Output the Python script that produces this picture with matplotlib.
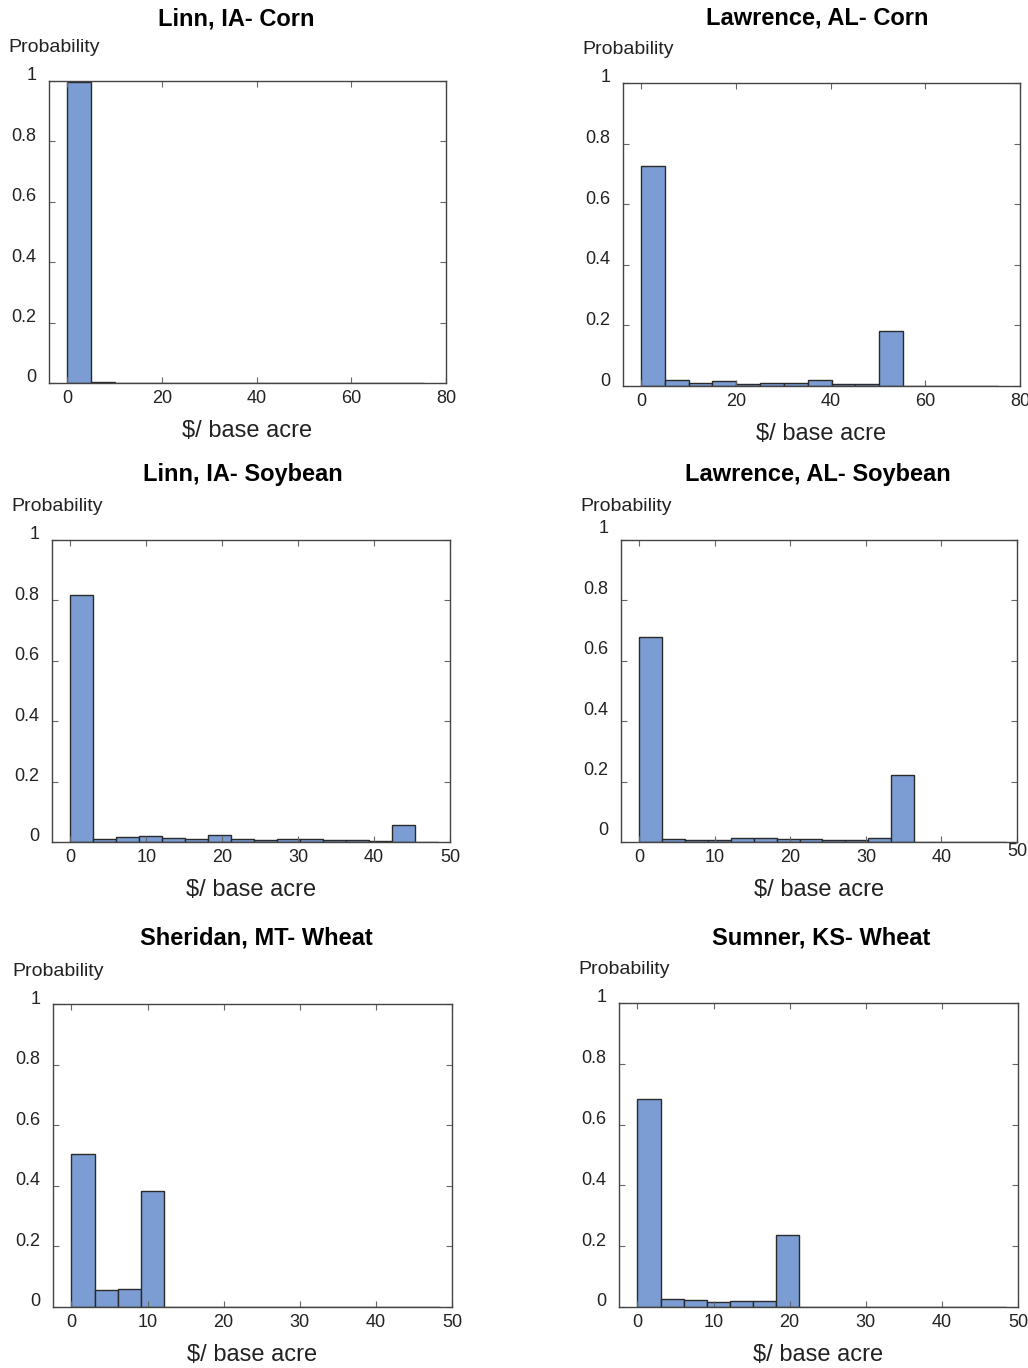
import numpy as np
import matplotlib
matplotlib.use('Agg')
from matplotlib import pyplot as plt
from matplotlib.ticker import FormatStrFormatter
from matplotlib.transforms import ScaledTranslation

plt.rcParams['font.family'] = ['Liberation Sans', 'DejaVu Sans']

# bin widths (MATLAB hist style)
corn_width = 5.03
other_width = 3.03

titles = ['Linn, IA- Corn', 'Lawrence, AL- Corn',
          'Linn, IA- Soybean', 'Lawrence, AL- Soybean',
          'Sheridan, MT- Wheat', 'Sumner, KS- Wheat']

linn_corn = [0.997, 0.002, 0.001, 0.001, 0.0005, 0.0005, 0.0005, 0.0005,
             0.0005, 0.0005, 0.0005, 0.0005, 0.0005, 0.0005, 0.0005]
lawrence_corn = [0.727, 0.019, 0.011, 0.018, 0.008, 0.009, 0.010, 0.021,
                 0.007, 0.007, 0.182, 0.001, 0.0005, 0.0005, 0.0005]
linn_soy = [0.819, 0.010, 0.015, 0.019, 0.012, 0.011, 0.022, 0.009,
            0.008, 0.009, 0.010, 0.007, 0.007, 0.004, 0.055, 0.001]
lawrence_soy = [0.678, 0.010, 0.007, 0.007, 0.012, 0.013, 0.009, 0.009,
                0.007, 0.007, 0.012, 0.221, 0.0005, 0.0005, 0.0005, 0.0005]
sheridan_wheat = [0.505, 0.056, 0.060, 0.383, 0, 0, 0, 0,
                  0, 0, 0, 0, 0, 0, 0, 0]
sumner_wheat = [0.685, 0.025, 0.022, 0.015, 0.021, 0.019, 0.236, 0.0005,
                0.0005, 0.0005, 0.0005, 0.0005, 0.0005, 0.0005, 0.0005, 0.0005]

series = [linn_corn, lawrence_corn, linn_soy, lawrence_soy,
          sheridan_wheat, sumner_wheat]
widths = [corn_width, corn_width, other_width, other_width,
          other_width, other_width]
xmax = [80, 80, 50, 50, 50, 50]
xticks = [[0, 20, 40, 60, 80]] * 2 + [[0, 10, 20, 30, 40, 50]] * 4
yticks = [0, 0.2, 0.4, 0.6, 0.8, 1]

# axes boxes in pixels: left, top, right, bottom
boxes = [(49, 81, 446, 383), (623, 83, 1020, 386),
         (52, 540, 450, 842), (621, 540, 1017, 842),
         (53, 1004, 452, 1307), (619, 1003, 1018, 1307)]
label_shift = [7, 7, 7, 13, 7, 7]
title_dx = [-11, -4, -8, -1, 4, 3]
title_dy = [62, 65, 65, 65, 66, 65]

W, H = 1028, 1368
fig = plt.figure(figsize=(W / 100, H / 100), dpi=100)

bar_color = '#7b9dd3'
text_color = '#222222'
px = 0.72  # points per pixel at 100 dpi

for i in range(6):
    l, t, r, b = boxes[i]
    ax = fig.add_axes([l / W, 1 - b / H, (r - l) / W, (b - t) / H])
    vals = series[i]
    w = widths[i]
    edges = np.arange(len(vals)) * w
    ax.bar(edges, vals, width=w, align='edge', color=bar_color,
           edgecolor='#2a2a2a', linewidth=1.0)
    ax.set_xlim(-w * 0.8 if xmax[i] == 50 else -3.8, xmax[i])
    ax.set_ylim(0, 1)
    ax.set_xticks(xticks[i])
    ax.set_yticks(yticks)
    ax.yaxis.set_major_formatter(FormatStrFormatter('%g'))
    ax.tick_params(direction='in', length=4, width=0.8, color='#666666',
                   top=True, right=True, labelsize=13,
                   labelcolor=text_color)
    ax.tick_params(axis='y', pad=9)
    ax.tick_params(axis='x', pad=5)
    for sp in ax.spines.values():
        sp.set_color('#444444')
        sp.set_linewidth(1.0)
    shift = ScaledTranslation(0, label_shift[i] / 100, fig.dpi_scale_trans)
    for lab in ax.get_yticklabels():
        lab.set_transform(lab.get_transform() + shift)
    if i == 3:
        # the last x label sits a little higher in this panel
        last = ax.get_xticklabels()[-1]
        last.set_transform(last.get_transform() +
                           ScaledTranslation(0, 6 / 100, fig.dpi_scale_trans))

    ax.annotate(titles[i], xy=(0.5, 1), xycoords='axes fraction',
                xytext=(title_dx[i] * px, title_dy[i] * px),
                textcoords='offset points',
                ha='center', va='center', fontsize=17,
                fontweight='bold', color='black')
    ax.annotate('Probability', xy=(0, 1), xycoords='axes fraction',
                xytext=(-41 * px, 33 * px), textcoords='offset points',
                ha='left', va='center', fontsize=14, color=text_color)
    ax.annotate('$/ base acre', xy=(0.5, 0), xycoords='axes fraction',
                xytext=(0, -48 * px), textcoords='offset points',
                ha='center', va='center', fontsize=17, color=text_color)

fig.savefig('out.png', dpi=100, facecolor='white')
